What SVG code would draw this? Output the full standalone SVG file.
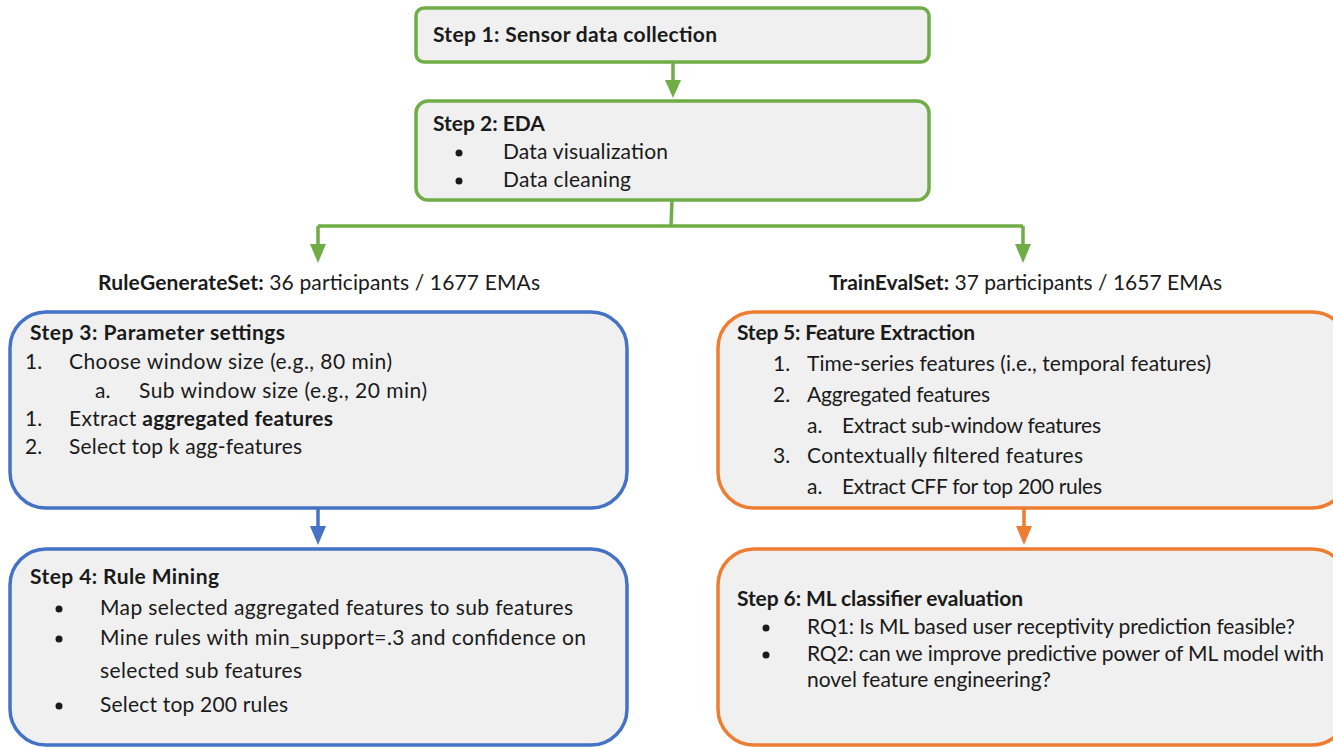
<svg xmlns="http://www.w3.org/2000/svg" width="1333" height="748" viewBox="0 0 1333 748">
<defs>
<style>
text{font-family:Lato,"Liberation Sans",sans-serif;font-size:21px;fill:#1a1a1a}
.b{font-weight:bold}
.box{fill:#f0f0f0;stroke-width:3.5}
.g{stroke:#70ad47}
.bl{stroke:#4472c4}
.o{stroke:#ed7d31}
.ln{fill:none;stroke-width:3.5}
</style>
</defs>
<rect width="1333" height="748" fill="#fff"/>
<g id="connectors">
<line class="ln g" x1="673" y1="63" x2="673" y2="80"/>
<path d="M665,80 L681,80 L673,98 z" fill="#70ad47"/>
<path class="ln g" d="M672,200 L671,226 M318,226 L1023,226 M318,226 L318,244 M1023,226 L1023,244"/>
<path d="M310,244 L326,244 L318,263 z" fill="#70ad47"/>
<path d="M1015,244 L1031,244 L1023,263 z" fill="#70ad47"/>
<line class="ln bl" x1="318" y1="509" x2="318" y2="526"/>
<path d="M310,526 L326,526 L318,545 z" fill="#4472c4"/>
<line class="ln o" x1="1024" y1="509" x2="1024" y2="526"/>
<path d="M1016,526 L1032,526 L1024,545 z" fill="#ed7d31"/>
</g>
<g id="step1">
<rect class="box g" x="416" y="8" width="513" height="54" rx="8"/>
<text class="b" x="433" y="42" textLength="284">Step 1: Sensor data collection</text>
</g>
<g id="step2">
<rect class="box g" x="416" y="101" width="513" height="99" rx="12"/>
<text class="b" x="433" y="131">Step 2: EDA</text>
<circle cx="459" cy="153" r="3.5" fill="#1a1a1a"/>
<text x="503" y="159" textLength="165">Data visualization</text>
<circle cx="459" cy="181" r="3.5" fill="#1a1a1a"/>
<text x="503" y="187" textLength="128">Data cleaning</text>
</g>
<g id="label-left">
<text x="98" y="290" textLength="442"><tspan class="b">RuleGenerateSet:</tspan> 36 participants / 1677 EMAs</text>
</g>
<g id="label-right">
<text x="829" y="290" textLength="393"><tspan class="b">TrainEvalSet:</tspan> 37 participants / 1657 EMAs</text>
</g>
<g id="step3">
<rect class="box bl" x="10" y="312" width="617" height="196" rx="36"/>
<text class="b" x="30" y="340" textLength="255">Step 3: Parameter settings</text>
<text x="25" y="369">1.</text><text x="69" y="369" textLength="323">Choose window size (e.g., 80 min)</text>
<text x="95" y="398">a.</text><text x="139" y="398" textLength="288">Sub window size (e.g., 20 min)</text>
<text x="25" y="426">1.</text><text x="69" y="426" textLength="264">Extract <tspan class="b">aggregated features</tspan></text>
<text x="25" y="454">2.</text><text x="69" y="454" textLength="233">Select top k agg-features</text>
</g>
<g id="step4">
<rect class="box bl" x="10" y="549" width="617" height="196" rx="36"/>
<text class="b" x="30" y="584" textLength="189">Step 4: Rule Mining</text>
<circle cx="59" cy="609" r="3.5" fill="#1a1a1a"/>
<text x="100" y="615" textLength="473">Map selected aggregated features to sub features</text>
<circle cx="59" cy="639" r="3.5" fill="#1a1a1a"/>
<text x="100" y="645" textLength="486">Mine rules with min_support=.3 and confidence on</text>
<text x="100" y="678" textLength="202">selected sub features</text>
<circle cx="59" cy="706" r="3.5" fill="#1a1a1a"/>
<text x="100" y="712" textLength="188">Select top 200 rules</text>
</g>
<g id="step5">
<rect class="box o" x="718" y="312" width="630" height="196" rx="36"/>
<text class="b" x="737" y="340" textLength="238">Step 5: Feature Extraction</text>
<text x="773" y="371">1.</text><text x="807" y="371" textLength="404">Time-series features (i.e., temporal features)</text>
<text x="773" y="402">2.</text><text x="807" y="402" textLength="183">Aggregated features</text>
<text x="807" y="433">a.</text><text x="842" y="433" textLength="259">Extract sub-window features</text>
<text x="773" y="463">3.</text><text x="807" y="463" textLength="276">Contextually filtered features</text>
<text x="807" y="494">a.</text><text x="842" y="494" textLength="260">Extract CFF for top 200 rules</text>
</g>
<g id="step6">
<rect class="box o" x="718" y="549" width="630" height="196" rx="36"/>
<text class="b" x="737" y="606" textLength="286">Step 6: ML classifier evaluation</text>
<circle cx="766" cy="628" r="3.5" fill="#1a1a1a"/>
<text x="807" y="634" textLength="488">RQ1: Is ML based user receptivity prediction feasible?</text>
<circle cx="766" cy="655" r="3.5" fill="#1a1a1a"/>
<text x="807" y="661" textLength="517">RQ2: can we improve predictive power of ML model with</text>
<text x="807" y="687">novel feature engineering?</text>
</g>
</svg>
